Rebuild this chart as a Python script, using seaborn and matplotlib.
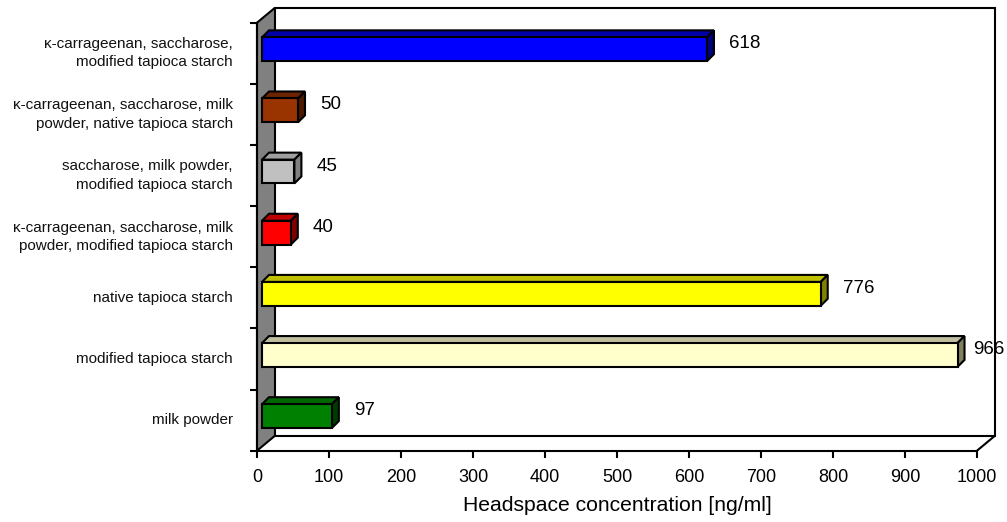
import numpy as np
import pandas as pd
import matplotlib
matplotlib.use("Agg")
import matplotlib.pyplot as plt
import matplotlib.transforms as mtransforms
from matplotlib.patches import Polygon
import seaborn as sns

# Samples, top to bottom, and their headspace concentrations (ng/ml)
categories = [
    "κ-carrageenan, saccharose,\nmodified tapioca starch",
    "κ-carrageenan, saccharose, milk\npowder, native tapioca starch",
    "saccharose, milk powder,\nmodified tapioca starch",
    "κ-carrageenan, saccharose, milk\npowder, modified tapioca starch",
    "native tapioca starch",
    "modified tapioca starch",
    "milk powder",
]
concentrations = [618, 50, 45, 40, 776, 966, 97]

# Face colours of the pseudo-3D bars: front, top and right side
front_colors = ["#0000FF", "#993300", "#C0C0C0", "#FF0000", "#FFFF00", "#FFFFCC", "#008000"]
top_colors = ["#0000A8", "#6E2400", "#A0A0A0", "#C00000", "#C0C000", "#C0C0A0", "#006600"]
side_colors = ["#000080", "#4D1A00", "#808080", "#800000", "#808000", "#808060", "#003C00"]

x_ticks = list(range(0, 1001, 100))
x_label = "Headspace concentration [ng/ml]"

sns.set_theme(style="white")
plt.rcParams["font.family"] = ["Liberation Sans", "DejaVu Sans"]
plt.rcParams["text.color"] = "black"

W, H = 1007, 522
DPI = 100
fig = plt.figure(figsize=(W / DPI, H / DPI), dpi=DPI)
ax = fig.add_axes([257 / W, (H - 450.7) / H, 720 / W, 428 / H])

df = pd.DataFrame({"sample": categories, "conc": concentrations})
sns.barplot(data=df, x="conc", y="sample", hue="sample", palette=front_colors,
            saturation=1, orient="h", width=0.39, edgecolor="black", linewidth=1.5,
            legend=False, ax=ax, zorder=5)

ax.set_xlim(0, 1000)
ax.set_ylim(len(categories) - 0.5, -0.5)


def px_to_data(dx, dy):
    inv = ax.transData.inverted()
    x0, y0 = inv.transform((0, 0))
    x1, y1 = inv.transform((dx, dy))
    return x1 - x0, y1 - y0


# Floor / wall depth of the 3D box
wdx, wdy = px_to_data(18, 15)
ylo, yhi = -0.5, len(categories) - 0.5

bars = sorted([p for p in ax.patches], key=lambda p: p.get_y())

# Left wall (grey) and back plane outline
ax.add_patch(Polygon([(0, ylo), (wdx, ylo + wdy), (wdx, yhi + wdy), (0, yhi)],
                     closed=True, facecolor="#808080", edgecolor="black",
                     lw=1.5, clip_on=False, zorder=1))
ax.plot([wdx, 1000 + wdx, 1000 + wdx, wdx],
        [ylo + wdy, ylo + wdy, yhi + wdy, yhi + wdy],
        color="black", lw=1.5, clip_on=False, zorder=1, solid_joinstyle="miter")
ax.plot([1000, 1000 + wdx], [yhi, yhi + wdy], color="black", lw=1.5,
        clip_on=False, zorder=1)

# Bars sit a little behind the front plane; give them top and side faces
bar_trans = ax.transData + mtransforms.ScaledTranslation(5 / DPI, 4 / DPI, fig.dpi_scale_trans)
bdx, bdy = px_to_data(7, 7)
_, lab_dy = px_to_data(0, 5.5)
labels = []
for bar, val, tc, sc in zip(bars, concentrations, top_colors, side_colors):
    bar.set_transform(bar_trans)
    xl = bar.get_x()
    xr = xl + bar.get_width()
    yt = bar.get_y()
    yb = yt + bar.get_height()
    ax.add_patch(Polygon([(xl, yt), (xr, yt), (xr + bdx, yt + bdy), (xl + bdx, yt + bdy)],
                         closed=True, facecolor=tc, edgecolor="black", lw=1.5,
                         transform=bar_trans, zorder=4, clip_on=False))
    ax.add_patch(Polygon([(xr, yt), (xr + bdx, yt + bdy), (xr + bdx, yb + bdy), (xr, yb)],
                         closed=True, facecolor=sc, edgecolor="black", lw=1.5,
                         transform=bar_trans, zorder=4, clip_on=False))
    lab_trans = bar_trans + mtransforms.ScaledTranslation(15 / DPI, 0, fig.dpi_scale_trans)
    t = ax.text(xr + bdx, (yt + yb) / 2 + lab_dy, f"{val}", ha="left", va="center",
                fontsize=13.5, color="black", transform=lab_trans, zorder=6,
                clip_on=False)
    labels.append(t)

# Keep value labels inside the figure
fig.canvas.draw()
renderer = fig.canvas.get_renderer()
for t in labels:
    bb = t.get_window_extent(renderer)
    if bb.x1 > W - 3:
        shift = (bb.x1 - (W - 3)) / DPI
        t.set_transform(t.get_transform() + mtransforms.ScaledTranslation(-shift, 0, fig.dpi_scale_trans))

# Axes, ticks and category labels
for side in ("top", "right"):
    ax.spines[side].set_visible(False)
for side in ("left", "bottom"):
    ax.spines[side].set_color("black")
    ax.spines[side].set_linewidth(1.5)
    ax.spines[side].set_zorder(3)

ax.set_xticks(x_ticks)
ax.set_xticklabels([str(v) for v in x_ticks])
ax.tick_params(axis="x", bottom=True, direction="out", length=5, width=1.5,
               color="black", labelsize=13, labelcolor="black", pad=8.5)
ax.set_yticks(np.arange(ylo, yhi + 0.01, 1.0))
ax.set_yticklabels([])
ax.tick_params(axis="y", left=True, direction="out", length=5, width=1.5, color="black")

cat_trans = mtransforms.blended_transform_factory(ax.transAxes, ax.transData) + \
    mtransforms.ScaledTranslation(-24 / DPI, 0, fig.dpi_scale_trans)
for i, name in enumerate(categories):
    ax.text(0, i, name, ha="right", va="center", multialignment="right",
            fontsize=11, linespacing=1.4, color="#111111", transform=cat_trans,
            clip_on=False)

ax.set_ylabel("")
ax.set_xlabel(x_label, fontsize=15.2, color="black", labelpad=7)

fig.savefig("out.png", dpi=DPI)
